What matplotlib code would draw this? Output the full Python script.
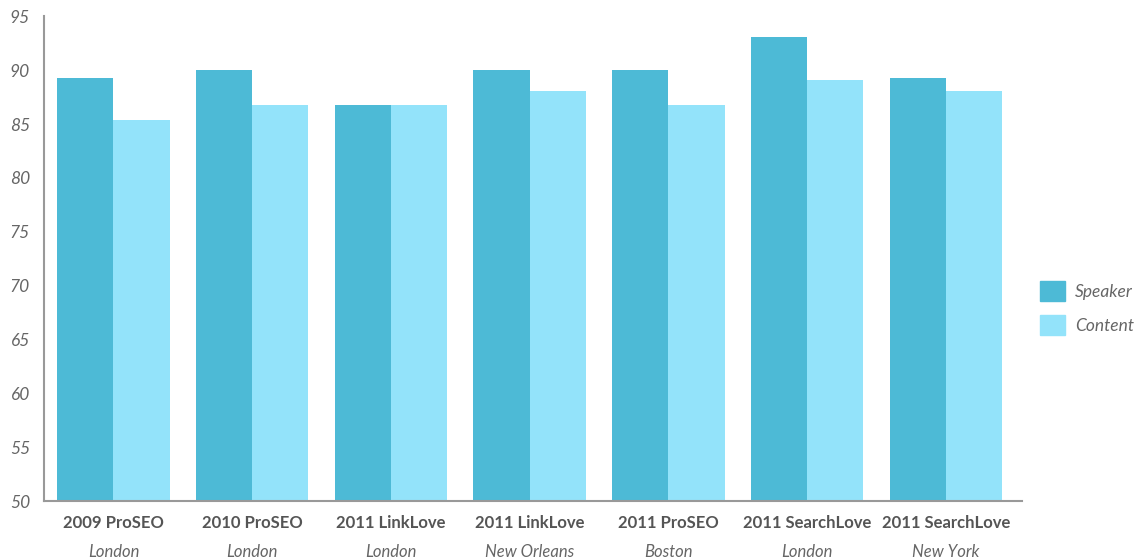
import numpy as np
import matplotlib
matplotlib.use("Agg")
import matplotlib.pyplot as plt
from matplotlib.patches import Patch

events = ["2009 ProSEO", "2010 ProSEO", "2011 LinkLove", "2011 LinkLove",
          "2011 ProSEO", "2011 SearchLove", "2011 SearchLove"]
cities = ["London", "London", "London", "New Orleans", "Boston", "London", "New York"]
speaker = [89.3, 90.0, 86.8, 90.0, 90.0, 93.1, 89.3]
content = [85.4, 86.8, 86.8, 88.1, 86.8, 89.1, 88.1]

C_SPEAKER = "#4dbad6"
C_CONTENT = "#93e3fa"
GREY = "#999999"
TEXT = "#666666"

plt.rcParams['font.family'] = ['Lato', 'DejaVu Sans']

fig = plt.figure(figsize=(11.44, 5.6), dpi=100)
ax = fig.add_axes([0.0385, 0.105, 0.855, 0.866])

x = np.arange(len(events))
w = 0.405
ax.bar(x - w / 2, speaker, w, color=C_SPEAKER, label="Speaker")
ax.bar(x + w / 2, content, w, color=C_CONTENT, label="Content")

ax.set_ylim(50, 95)
ax.set_xlim(-0.5, 6.55)
ax.set_yticks(range(50, 96, 5))
ax.tick_params(axis="y", length=0, pad=10, labelcolor=TEXT, labelsize=12.5)
for lab in ax.get_yticklabels():
    lab.set_fontstyle("italic")

ax.set_xticks(x)
ax.set_xticklabels(events, fontweight="bold", color="#555555", fontsize=12)
ax.tick_params(axis="x", length=0, pad=10)
for xi, c in zip(x, cities):
    ax.text(xi, -0.105, c, transform=ax.get_xaxis_transform(), ha="center", va="center",
            fontstyle="italic", color=TEXT, fontsize=12)

for s in ["top", "right"]:
    ax.spines[s].set_visible(False)
for s in ["left", "bottom"]:
    ax.spines[s].set_color(GREY)
    ax.spines[s].set_linewidth(1.5)

handles = [Patch(color=C_SPEAKER, label="Speaker"), Patch(color=C_CONTENT, label="Content")]
leg = fig.legend(handles=handles, loc="center left", bbox_to_anchor=(0.895, 0.45),
                 frameon=False, handlelength=1.45, handleheight=1.45, labelspacing=0.75,
                 handletextpad=0.6, prop={"style": "italic", "size": 12.5})
for t in leg.get_texts():
    t.set_color(TEXT)

fig.savefig("out.png", dpi=100)
